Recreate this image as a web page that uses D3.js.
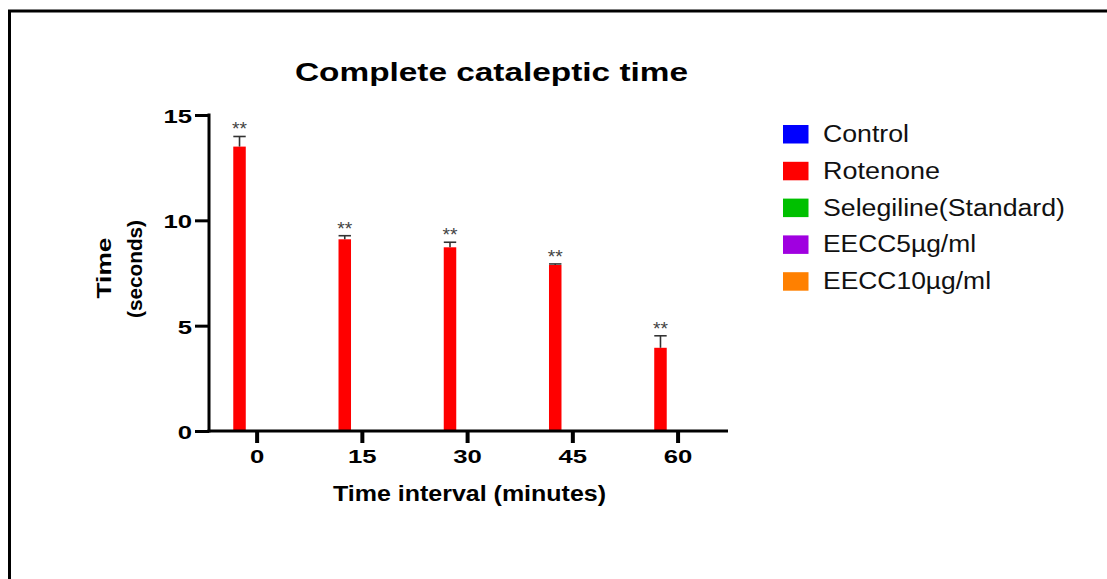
<!DOCTYPE html>
<html>
<head>
<meta charset="utf-8">
<script src="https://cdn.jsdelivr.net/npm/d3@7"></script>
<style>
  html, body { margin: 0; padding: 0; background: #fff; }
  svg { display: block; font-family: "Liberation Sans", Arial, Helvetica, sans-serif; }
</style>
</head>
<body>
<svg id="chart" width="1107" height="579"></svg>
<script>
// Time points (minutes) and treatment groups
const timePoints = ["0", "15", "30", "45", "60"];
const groups = ["Control", "Rotenone", "Selegiline(Standard)", "EECC5µg/ml", "EECC10µg/ml"];
const groupColors = ["#0000ff", "#ff0000", "#00c000", "#a000e0", "#ff8000"];

// Mean cataleptic time (seconds) per group at each time point
const controlMean    = [0, 0, 0, 0, 0];
const rotenoneMean   = [13.5, 9.1, 8.72, 7.88, 3.95];
const selegilineMean = [0, 0, 0, 0, 0];
const eecc5Mean      = [0, 0, 0, 0, 0];
const eecc10Mean     = [0, 0, 0, 0, 0];

// Standard error of the mean
const controlSem    = [0, 0, 0, 0, 0];
const rotenoneSem   = [0.48, 0.17, 0.24, 0.05, 0.57];
const selegilineSem = [0, 0, 0, 0, 0];
const eecc5Sem      = [0, 0, 0, 0, 0];
const eecc10Sem     = [0, 0, 0, 0, 0];

// Significance marks shown above the bars
const rotenoneSig = ["**", "**", "**", "**", "**"];
const noSig = ["", "", "", "", ""];

const yTicks = [0, 5, 10, 15];

const means = [controlMean, rotenoneMean, selegilineMean, eecc5Mean, eecc10Mean];
const sems  = [controlSem, rotenoneSem, selegilineSem, eecc5Sem, eecc10Sem];
const sigs  = [noSig, rotenoneSig, noSig, noSig, noSig];

const svg = d3.select("#chart");

// The typeface used here runs wide, so each label is stretched to its set width
const digitW = 14.3;
function widen(sel, w) {
  sel.attr("textLength", w).attr("lengthAdjust", "spacingAndGlyphs");
}

// Outer frame
svg.append("path")
  .attr("d", "M9.5,579 L9.5,11 L1107,11")
  .attr("fill", "none")
  .attr("stroke", "#000")
  .attr("stroke-width", 3);

const plotLeft = 209, plotRight = 728, plotTop = 115, plotBottom = 431;

const x = d3.scaleBand()
  .domain(timePoints)
  .range([204.5, 730.7]);

const groupWidth = 88;
const xSub = d3.scaleBand()
  .domain(groups)
  .range([0, groupWidth]);

const y = d3.scaleLinear()
  .domain([0, 15])
  .range([plotBottom, plotTop]);

// Bars, error bars and significance marks
groups.forEach((g, gi) => {
  const data = timePoints.map((t, i) => ({ t, v: means[gi][i], e: sems[gi][i], s: sigs[gi][i] }));
  const cx = d => x(d.t) + x.bandwidth() / 2 - groupWidth / 2 + xSub(g) + xSub.bandwidth() / 2;
  const bw = 12.5;
  const layer = svg.append("g");
  layer.selectAll("rect").data(data.filter(d => d.v > 0)).join("rect")
    .attr("x", d => cx(d) - bw / 2)
    .attr("y", d => y(d.v))
    .attr("width", bw)
    .attr("height", d => y(0) - y(d.v))
    .attr("fill", groupColors[gi]);
  const eb = data.filter(d => d.e > 0);
  layer.selectAll("line.stem").data(eb).join("line")
    .attr("class", "stem")
    .attr("x1", cx).attr("x2", cx)
    .attr("y1", d => y(d.v)).attr("y2", d => y(d.v + d.e))
    .attr("stroke", "#333").attr("stroke-width", 1.6);
  layer.selectAll("line.cap").data(eb).join("line")
    .attr("class", "cap")
    .attr("x1", d => cx(d) - 6.2).attr("x2", d => cx(d) + 6.2)
    .attr("y1", d => y(d.v + d.e)).attr("y2", d => y(d.v + d.e))
    .attr("stroke", "#333").attr("stroke-width", 1.6);
  layer.selectAll("text.sig").data(data.filter(d => d.s)).join("text")
    .attr("class", "sig")
    .attr("x", cx)
    .attr("y", d => y(d.v + d.e) - 1)
    .attr("text-anchor", "middle")
    .attr("font-size", 19)
    .attr("fill", "#444")
    .call(widen, 15)
    .text(d => d.s);
});

// Y axis
const yAxis = svg.append("g")
  .attr("transform", `translate(${plotLeft},0)`)
  .call(d3.axisLeft(y).tickValues(yTicks).tickSize(14).tickPadding(3));
yAxis.select(".domain").attr("stroke", "#000").attr("stroke-width", 3)
  .attr("d", `M0,${plotTop - 1.5}V${plotBottom + 1.5}`);
yAxis.selectAll(".tick line").attr("stroke", "#000").attr("stroke-width", 3);
yAxis.selectAll(".tick text")
  .attr("font-size", 19).attr("font-weight", "bold").attr("fill", "#000")
  .attr("font-family", "Liberation Sans, Arial, sans-serif")
  .attr("dy", "0.4em")
  .each(function(d) { widen(d3.select(this), String(d).length * digitW); });

// X axis
const xAxis = svg.append("g")
  .attr("transform", `translate(0,${plotBottom})`)
  .call(d3.axisBottom(x).tickSize(12).tickPadding(7));
xAxis.select(".domain").attr("stroke", "#000").attr("stroke-width", 3)
  .attr("d", `M${plotLeft - 1.5},0H${plotRight}`);
xAxis.selectAll(".tick line").attr("stroke", "#000").attr("stroke-width", 4);
xAxis.selectAll(".tick text")
  .attr("font-size", 19).attr("font-weight", "bold").attr("fill", "#000")
  .attr("font-family", "Liberation Sans, Arial, sans-serif")
  .each(function(d) { widen(d3.select(this), d.length * digitW); });

// Title
svg.append("text")
  .attr("x", 491.5).attr("y", 81)
  .attr("text-anchor", "middle")
  .attr("font-size", 26).attr("font-weight", "bold")
  .call(widen, 393)
  .text("Complete cataleptic time");

// Axis titles
svg.append("text")
  .attr("x", 469.5).attr("y", 501)
  .attr("text-anchor", "middle")
  .attr("font-size", 22).attr("font-weight", "bold")
  .call(widen, 273)
  .text("Time interval (minutes)");

const yTitle = svg.append("g").attr("transform", "translate(0,270) rotate(-90)");
yTitle.append("text").attr("x", 2).attr("y", 111)
  .attr("text-anchor", "middle").attr("font-size", 20).attr("font-weight", "bold")
  .call(widen, 61)
  .text("Time");
yTitle.append("text").attr("x", 1).attr("y", 142)
  .attr("text-anchor", "middle").attr("font-size", 21).attr("font-weight", "bold")
  .call(widen, 98)
  .text("(seconds)");

// Legend
const legendWidths = [86, 117, 242, 153, 168];
const legend = svg.append("g").attr("transform", "translate(783,125)");
const rows = legend.selectAll("g").data(groups).join("g")
  .attr("transform", (d, i) => `translate(0,${i * 36.8})`);
rows.append("rect").attr("width", 25.5).attr("height", 18.5)
  .attr("fill", (d, i) => groupColors[i]);
rows.append("text").attr("x", 40).attr("y", 17)
  .attr("font-size", 23).attr("fill", "#111")
  .each(function(d, i) { widen(d3.select(this), legendWidths[i]); })
  .text(d => d);
</script>
</body>
</html>
